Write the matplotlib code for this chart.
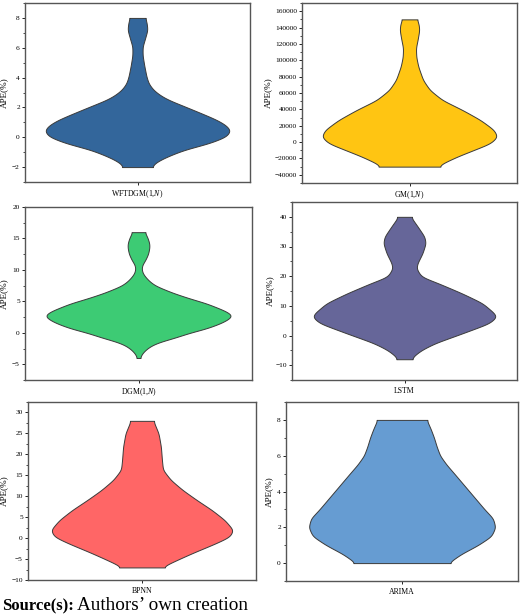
import numpy as np
import matplotlib
matplotlib.use("Agg")
import matplotlib.pyplot as plt
import matplotlib.transforms as mtransforms
from matplotlib.ticker import AutoMinorLocator, MultipleLocator

plt.rcParams['font.family'] = ['Liberation Serif', 'DejaVu Serif']
plt.rcParams['mathtext.fontset'] = 'custom'
plt.rcParams['mathtext.it'] = 'Liberation Serif:italic'
plt.rcParams['mathtext.rm'] = 'Liberation Serif'
plt.rcParams['axes.unicode_minus'] = True

# ---- data: violin density profiles (APE level, relative half-width) ----
models = ["WFTDGM(1,$N$)", "GM(1,$N$)", "DGM(1,$N$)", "LSTM", "BPNN", "ARIMA"]
colors = ["#33669B", "#FFC512", "#3DCB74", "#666699", "#FF6666", "#669CD2"]

wft_y = [-2, -1.86, -1.64, -1.3, -0.85, -0.4, 0.04, 0.45, 0.8, 1.16, 1.5, 1.83, 2.2, 2.5,
         2.8, 3.17, 3.6, 4.06, 4.8, 5.5, 6.07, 6.6, 7.2, 7.7, 8]
wft_w = [42, 45, 57, 87, 137, 212, 262, 275, 262, 235, 200, 165, 125, 92,
         68, 47, 33, 26.5, 20, 15, 15, 22, 29.5, 27, 22.5]

gm_y = [-30000, -28000, -17900, -9700, -1500, 6600, 14800, 27000, 39200, 51400, 63700,
        75900, 92200, 104000, 115000, 125000, 137000, 145000, 150000]
gm_w = [87, 88, 140, 190, 240, 260, 250, 210, 157, 97, 60,
        40, 26, 20, 19, 24, 29, 27, 21]

dgm_y = [-4, -3.5, -3, -2.5, -1.95, -1.4, -0.89, 0, 0.7, 1.5, 2.1, 2.67, 3.1, 3.6, 4.2,
         4.68, 5.47, 6.37, 7.48, 8.2, 8.9, 9.5, 10.2, 10.8, 11.57, 12.5, 13.5, 14.2, 15.2, 16]
dgm_w = [4, 8, 15, 25, 40, 65, 100, 150, 200, 240, 262, 275, 268, 250, 222,
         200, 150, 100, 50, 32, 20, 12, 9, 11, 20, 28, 32, 32, 26, 18]

lstm_y = [-8, -7.1, -4.9, -2.6, 0.7, 4.1, 6.3, 7.5, 10.9, 14.2, 17.6, 19.8, 22.6, 24.3,
          27.7, 31.1, 33.3, 36.7, 40]
lstm_w = [21, 25, 50, 90, 170, 250, 272, 265, 230, 170, 100, 50, 35, 38,
          53, 62.5, 59, 39, 18.5]

bpnn_y = [-7, -5.6, -3.6, -1.25, 0.34, 1.94, 4.3, 6.7, 9.1, 11.5, 13.9, 16.3, 18.65,
          21.8, 25, 28]
bpnn_w = [57, 93, 148, 218, 260, 270, 245, 207, 162, 120, 85, 62, 59,
          56, 49, 33.5]

arima_y = [0, 0.5, 1, 1.5, 2, 2.5, 3, 4, 5, 5.5, 6, 6.5, 7, 7.5, 8]
arima_w = [137, 175, 225, 265, 277, 270, 245, 200, 155, 132, 113, 103, 95, 85, 73]

profiles = [(wft_y, wft_w), (gm_y, gm_w), (dgm_y, dgm_w),
            (lstm_y, lstm_w), (bpnn_y, bpnn_w), (arima_y, arima_w)]

ylims = [(-3, 9), (-50000, 170000), (-7.5, 20), (-15, 45), (-10, 32.5), (-1, 9)]
ysteps = [2, 20000, 5, 10, 5, 2]
max_frac = [0.815, 0.806, 0.81, 0.806, 0.79, 0.80]

# axes boxes in pixels: left, right, top, bottom ; y-label x position
boxes = [(25, 250, 3, 182), (302, 517, 3, 183),
         (25, 252, 207, 380), (292, 517, 202, 380),
         (28, 256, 402, 580), (286, 518, 402, 581)]
label_x = [8.5, 272, 8.5, 274, 8.5, 273]

W, H = 520, 615
fig = plt.figure(figsize=(W / 100, H / 100), dpi=100)


def smooth_profile(y, w, n=600, sigma_frac=0.015):
    y = np.asarray(y, float)
    w = np.asarray(w, float)
    fy = np.linspace(y[0], y[-1], n)
    fw = np.interp(fy, y, w)
    step = fy[1] - fy[0]
    sig = sigma_frac * (y[-1] - y[0]) / step
    half = int(4 * sig) + 1
    k = np.exp(-0.5 * (np.arange(-half, half + 1) / sig) ** 2)
    k /= k.sum()
    pad = np.concatenate([fw[half:0:-1], fw, fw[-2:-half - 2:-1]])
    sw = np.convolve(pad, k, mode='valid')
    return fy, sw


for i, (name, col, (py, pw)) in enumerate(zip(models, colors, profiles)):
    l, r, t, b = boxes[i]
    ax = fig.add_axes([l / W, 1 - b / H, (r - l) / W, (b - t) / H])
    yy, ww = smooth_profile(py, pw)
    ww = ww / ww.max() * max_frac[i]
    ax.fill_betweenx(yy, -ww, ww, facecolor=col, edgecolor="#3a3a3a", linewidth=0.7)
    ax.set_xlim(-1, 1)
    ax.set_ylim(*ylims[i])
    ax.yaxis.set_major_locator(MultipleLocator(ysteps[i]))
    ax.yaxis.set_minor_locator(AutoMinorLocator(2))
    ax.set_xticks([0])
    ax.set_xticklabels([name])
    ax.tick_params(axis='both', which='major', labelsize=5.3, length=2.2, width=0.6, pad=1.5)
    ax.tick_params(axis='x', which='major', labelsize=5.6, pad=2.5)
    ax.tick_params(axis='y', which='minor', length=1.3, width=0.5)
    ax.set_ylabel("APE(%)", fontsize=6.6)
    trans = mtransforms.blended_transform_factory(fig.transFigure, ax.transAxes)
    ax.yaxis.set_label_coords(label_x[i] / W, 0.5, transform=trans)
    for s in ax.spines.values():
        s.set_linewidth(1.0)
        s.set_color("#555555")

t1 = fig.text(2 / W, 1 - 606 / H, "Source(s):", fontsize=12, fontweight='bold',
              va='center', ha='left')
fig.canvas.draw()
bb = t1.get_window_extent()
fig.text((bb.x1 + 3) / W, 1 - 606 / H, "Authors\u2019 own creation", fontsize=13.8,
         va='center', ha='left')

fig.savefig("out.png", dpi=100)
